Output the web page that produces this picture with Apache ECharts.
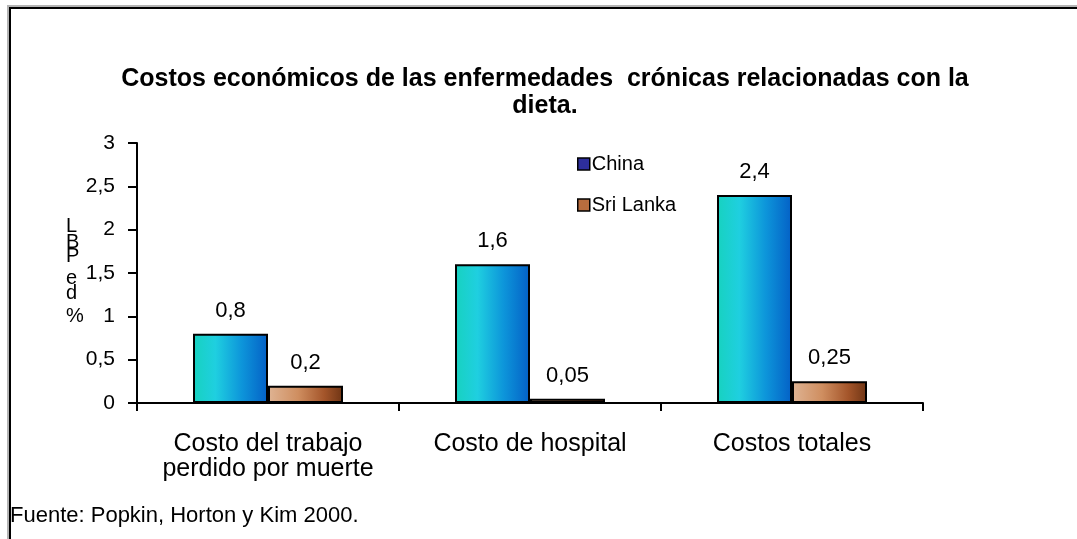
<!DOCTYPE html>
<html>
<head>
<meta charset="utf-8">
<script src="https://cdn.jsdelivr.net/npm/echarts@6/dist/echarts.min.js"></script>
<style>
html,body{margin:0;padding:0;background:#fff;}
#c{width:1077px;height:539px;}
</style>
</head>
<body>
<div id="c"></div>
<script>
const categories = ['Costo del trabajo\nperdido por muerte', 'Costo de hospital', 'Costos totales'];
const china = [0.8, 1.6, 2.4];
const sriLanka = [0.2, 0.05, 0.25];
const yTicks = [0, 0.5, 1, 1.5, 2, 2.5, 3];
const titleLines = ['Costos económicos de las enfermedades  crónicas relacionadas con la', 'dieta.'];
const yNameGlyphs = ['L', 'B', 'P', 'e', 'd', '%'];
const source = 'Fuente: Popkin, Horton y Kim 2000.';

const FONT = '"Liberation Sans", Arial, sans-serif';
const fmt = v => String(v).replace('.', ',');

const chinaGrad = new echarts.graphic.LinearGradient(0, 0, 1, 0, [
  {offset: 0, color: '#17d2bf'},
  {offset: 0.3, color: '#1fcfe0'},
  {offset: 0.65, color: '#0d95da'},
  {offset: 1, color: '#0460c6'}
]);
const slGrad = new echarts.graphic.LinearGradient(0, 0, 1, 0, [
  {offset: 0, color: '#dfb494'},
  {offset: 0.4, color: '#cf8e60'},
  {offset: 0.75, color: '#a4552a'},
  {offset: 1, color: '#6e3414'}
]);

const glyphY = [216, 232, 246, 268, 283, 306];
const glyphs = yNameGlyphs.map((g, i) => ({
  type: 'text', left: 66, top: glyphY[i],
  style: {text: g, font: '20px ' + FONT, fill: '#000'}
}));

const chart = echarts.init(document.getElementById('c'), null, {renderer: 'canvas'});
chart.setOption({
  animation: false,
  backgroundColor: '#fff',
  title: {
    text: titleLines.join('\n'),
    left: 545, top: 66, textAlign: 'center', padding: 0,
    textStyle: {fontFamily: FONT, fontWeight: 'bold', fontSize: 25, lineHeight: 27, color: '#000'}
  },
  legend: {
    orient: 'vertical', left: 577, top: 154, itemGap: 21, padding: 0,
    itemWidth: 12, itemHeight: 12, icon: 'rect',
    textStyle: {fontFamily: FONT, fontSize: 20, color: '#000', padding: [0, 0, 0, -3]},
    data: [
      {name: 'China', itemStyle: {color: '#2d2e9c', borderColor: '#000', borderWidth: 1.5}},
      {name: 'Sri Lanka', itemStyle: {color: '#b86d3e', borderColor: '#000', borderWidth: 1.5}}
    ]
  },
  grid: {left: 137, right: 154, top: 143, bottom: 136, containLabel: false},
  xAxis: {
    type: 'category', data: categories,
    axisLine: {lineStyle: {color: '#000', width: 2}},
    axisTick: {show: true, interval: 0, length: 8, lineStyle: {color: '#000', width: 2}},
    axisLabel: {interval: 0, hideOverlap: false, fontFamily: FONT, fontSize: 25, color: '#000', margin: 29, lineHeight: 25}
  },
  yAxis: {
    type: 'value', min: yTicks[0], max: yTicks[yTicks.length - 1], interval: 0.5,
    axisLine: {show: true, lineStyle: {color: '#000', width: 2}},
    axisTick: {show: true, length: 9, lineStyle: {color: '#000', width: 2}},
    splitLine: {show: false},
    axisLabel: {fontFamily: FONT, fontSize: 21, color: '#000', margin: 22, formatter: v => fmt(v)}
  },
  series: [
    {
      name: 'China', type: 'bar', data: china, barWidth: 75, barGap: '0%',
      itemStyle: {color: chinaGrad, borderColor: '#000', borderWidth: 2},
      label: {show: true, position: 'top', distance: 12, fontFamily: FONT, fontSize: 22, color: '#000', formatter: p => fmt(p.value)}
    },
    {
      name: 'Sri Lanka', type: 'bar', data: sriLanka, barWidth: 75, barGap: '0%',
      itemStyle: {color: slGrad, borderColor: '#000', borderWidth: 2},
      label: {show: true, position: 'top', distance: 12, fontFamily: FONT, fontSize: 22, color: '#000', formatter: p => fmt(p.value)}
    }
  ],
  graphic: [
    {type: 'rect', shape: {x: 7, y: 5, width: 1070, height: 2}, style: {fill: '#b4b4b4'}, silent: true},
    {type: 'rect', shape: {x: 7, y: 5, width: 2, height: 534}, style: {fill: '#b4b4b4'}, silent: true},
    {type: 'rect', shape: {x: 9, y: 7, width: 1068, height: 2}, style: {fill: '#000'}, silent: true},
    {type: 'rect', shape: {x: 9, y: 7, width: 2, height: 532}, style: {fill: '#000'}, silent: true},
    {type: 'text', left: 10, top: 505, style: {text: source, font: '22px ' + FONT, fill: '#000'}}
  ].concat(glyphs)
});
</script>
</body>
</html>
